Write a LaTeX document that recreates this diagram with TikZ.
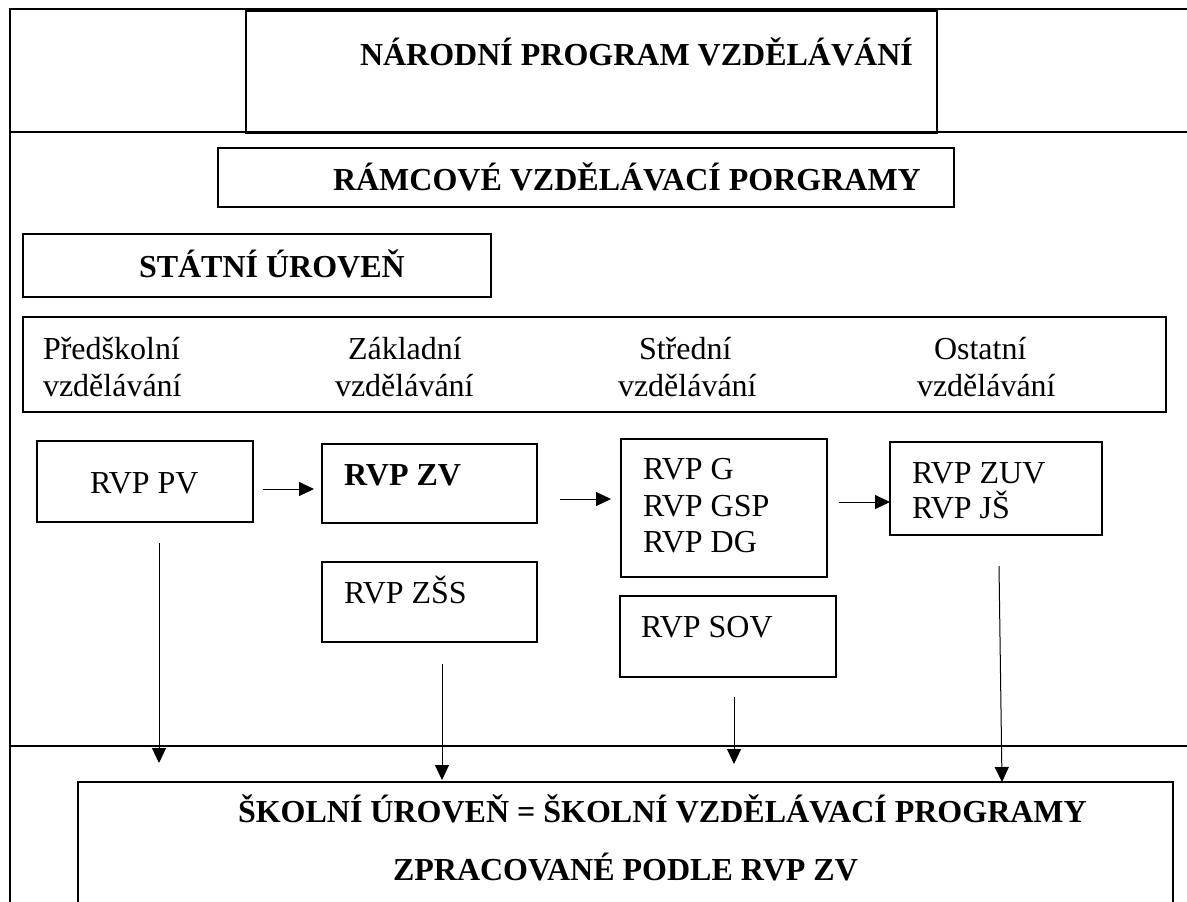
\documentclass[tikz,border=0pt]{standalone}
\usepackage{fontspec}
\setmainfont{Liberation Serif}
\usetikzlibrary{arrows.meta,fit}
\begin{document}
\begin{tikzpicture}[x=0.5pt,y=-0.5pt,
  box/.style={draw,line width=0.65pt,inner sep=0pt,outer sep=0pt},
  frameline/.style={line width=0.8pt},
  lbl/.style={inner sep=0pt,outer sep=0pt,anchor=base west,font=\fontsize{16}{19}\selectfont},
  blbl/.style={inner sep=0pt,outer sep=0pt,anchor=base west,font=\fontsize{16}{19}\selectfont\bfseries},
  arr/.style={line width=0.5pt,-{Triangle[length=7.5pt,width=7pt]}}]
\useasboundingbox (0,0) rectangle (1187,901);
\clip (0,0) rectangle (1187,901);
\fill[white] (0,0) rectangle (1187,901);

% outer frame lines
\draw[line width=0.9pt] (10,910) -- (10,9) -- (1200,9);
\draw[frameline] (10,132) -- (1200,132);
\draw[frameline] (10,746) -- (1200,746);

% boxes
\node[box,fit={(246,11) (937,133)}] (nar) {};
\node[box,fit={(218,148) (954,207)}] (ram) {};
\node[box,fit={(23,234) (491,297)}] (stat) {};
\node[box,fit={(23,317) (1166,412)}] (lev) {};
\node[box,fit={(37,441) (253,522)}] (pv) {};
\node[box,fit={(322,444) (537,523)}] (zv) {};
\node[box,fit={(621,439) (827,577)}] (g) {};
\node[box,fit={(890,442) (1102,535)}] (zuv) {};
\node[box,fit={(322,562) (537,642)}] (zss) {};
\node[box,fit={(620,596) (836,677)}] (sov) {};
\node[box,fit={(78,782) (1173,960)}] (skol) {};

% texts
\node[blbl] (tnar) at (360,65) {NÁRODNÍ PROGRAM VZDĚLÁVÁNÍ};
\node[blbl] (tram) at (333,190) {RÁMCOVÉ VZDĚLÁVACÍ PORGRAMY};
\node[blbl] (tstat) at (139,277) {STÁTNÍ ÚROVEŇ};

\node[lbl] (l1a) at (43,359) {Předškolní};
\node[lbl] (l1b) at (43,396) {vzdělávání};
\node[lbl] (l2a) at (348,359) {Základní};
\node[lbl] (l2b) at (335,396) {vzdělávání};
\node[lbl] (l3a) at (639,359) {Střední};
\node[lbl] (l3b) at (618,396) {vzdělávání};
\node[lbl] (l4a) at (934,359) {Ostatní};
\node[lbl] (l4b) at (917,396) {vzdělávání};

\node[lbl] (tpv) at (90,493) {RVP PV};
\node[blbl] (tzv) at (344,485) {RVP ZV};
\node[lbl] (tg1) at (643,479) {RVP G};
\node[lbl] (tg2) at (643,516) {RVP GSP};
\node[lbl] (tg3) at (643,552) {RVP DG};
\node[lbl] (tz1) at (912,483) {RVP ZUV};
\node[lbl] (tz2) at (912,518) {RVP JŠ};
\node[lbl] (tzss) at (344,603) {RVP ZŠS};
\node[lbl] (tsov) at (641,637) {RVP SOV};

\node[blbl] (ts1) at (238,822) {ŠKOLNÍ ÚROVEŇ = ŠKOLNÍ VZDĚLÁVACÍ PROGRAMY};
\node[blbl] (ts2) at (393,880) {ZPRACOVANÉ PODLE RVP ZV};

% arrow end points
\coordinate (a1s) at (263,489);
\coordinate (a1e) at (314,489);
\coordinate (a2s) at (560,499);
\coordinate (a2e) at (611,499);
\coordinate (a3s) at (839,502);
\coordinate (a4s) at (159,543);
\coordinate (a4e) at (159,763);
\coordinate (a5s) at (442,664);
\coordinate (a5e) at (442,780);
\coordinate (a6s) at (734,697);
\coordinate (a6e) at (734,764);
\coordinate (a7s) at (999,566);
\coordinate (a7e) at (1002,782);

\draw[arr] (a1s) -- (a1e);
\draw[arr] (a2s) -- (a2e);
\draw[arr] (a3s) -- (a3s -| zuv.west);
\draw[arr] (a4s) -- (a4e);
\draw[arr] (a5s) -- (a5e);
\draw[arr] (a6s) -- (a6e);
\draw[arr] (a7s) -- (a7e);
\end{tikzpicture}
\end{document}
